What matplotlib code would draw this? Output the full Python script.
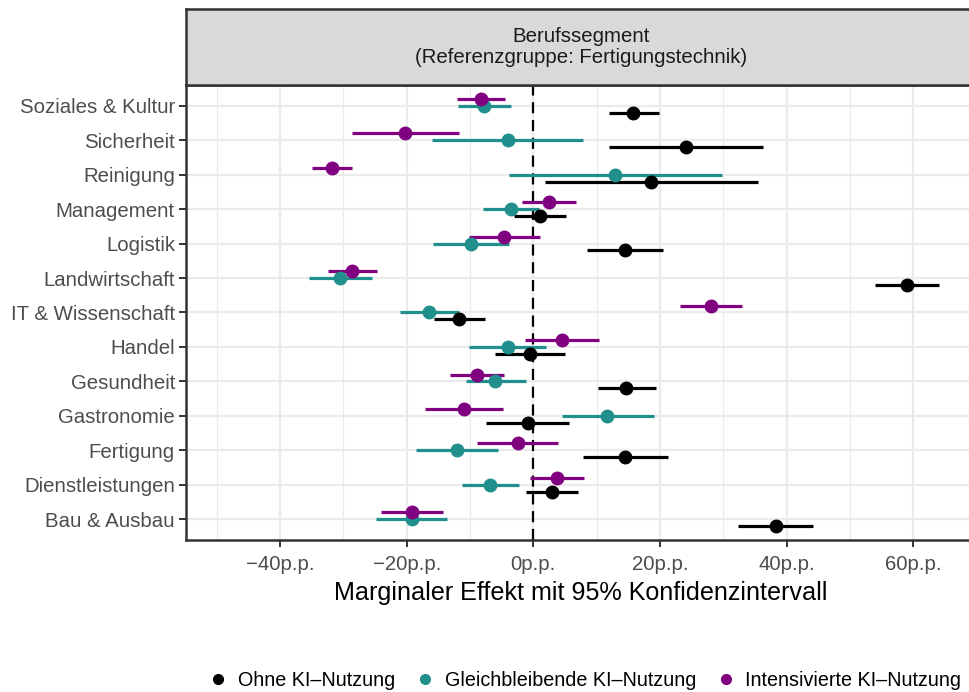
import numpy as np
import matplotlib
matplotlib.use("Agg")
import matplotlib.pyplot as plt
from matplotlib import font_manager
from matplotlib.lines import Line2D

names = {f.name for f in font_manager.fontManager.ttflist}
fam = [n for n in ["Liberation Sans Narrow", "Liberation Sans", "DejaVu Sans"] if n in names]
plt.rcParams["font.family"] = fam

# categories bottom -> top
segments = ["Bau & Ausbau", "Dienstleistungen", "Fertigung", "Gastronomie", "Gesundheit",
            "Handel", "IT & Wissenschaft", "Landwirtschaft", "Logistik", "Management",
            "Reinigung", "Sicherheit", "Soziales & Kultur"]

# Ohne KI-Nutzung: estimate, lower, upper
ohne_est = [38.3, 2.9, 14.5, -0.9, 14.7, -0.6, -11.8, 59.0, 14.4, 1.0, 18.6, 24.1, 15.8]
ohne_lo  = [32.3, -1.2, 7.8, -7.4, 10.2, -6.1, -15.7, 53.9, 8.5, -3.0, 1.9, 12.0, 12.0]
ohne_hi  = [44.2, 7.1, 21.2, 5.6, 19.3, 5.0, -7.6, 64.1, 20.4, 5.1, 35.4, 36.3, 19.8]

# Gleichbleibende KI-Nutzung
gleich_est = [-19.2, -6.8, -12.1, 11.7, -6.0, -4.0, -16.4, -30.5, -9.9, -3.5, 12.9, -4.0, -7.8]
gleich_lo  = [-24.8, -11.2, -18.6, 4.5, -10.7, -10.1, -21.1, -35.5, -15.9, -8.0, -3.8, -16.0, -11.9]
gleich_hi  = [-13.6, -2.3, -5.6, 19.1, -1.2, 2.0, -11.7, -25.5, -3.9, 0.9, 29.8, 7.9, -3.6]

# Intensivierte KI-Nutzung
intens_est = [-19.1, 3.7, -2.5, -11.0, -8.9, 4.6, 28.0, -28.7, -4.6, 2.4, -31.8, -20.2, -8.2]
intens_lo  = [-24.0, -0.5, -8.9, -17.1, -13.1, -1.3, 23.1, -32.5, -10.2, -1.8, -34.9, -28.6, -12.0]
intens_hi  = [-14.3, 8.0, 3.9, -4.8, -4.6, 10.4, 32.9, -24.7, 1.0, 6.7, -28.6, -11.8, -4.4]

groups = [
    ("Ohne KI\u2013Nutzung", ohne_est, ohne_lo, ohne_hi, "black", -0.2),
    ("Gleichbleibende KI\u2013Nutzung", gleich_est, gleich_lo, gleich_hi, "#21908C", 0.0),
    ("Intensivierte KI\u2013Nutzung", intens_est, intens_lo, intens_hi, "#800080", 0.2),
]

xticks = [-40, -20, 0, 20, 40, 60]
xminor = [-50, -30, -10, 10, 30, 50]

W, H = 970, 692
fig = plt.figure(figsize=(W / 100, H / 100), dpi=100)
L, R, B, T, ST = 186, 976, 540, 85, 9
ax = fig.add_axes([L / W, (H - B) / H, (R - L) / W, (B - T) / H])
sx = fig.add_axes([L / W, (H - T) / H, (R - L) / W, (T - ST) / H])

grid_c = "#EBEBEB"
for v in xminor:
    ax.axvline(v, color=grid_c, lw=0.8, zorder=0)
for v in xticks:
    ax.axvline(v, color=grid_c, lw=1.6, zorder=0)
y = np.arange(len(segments))
for yy in y:
    ax.axhline(yy, color=grid_c, lw=1.6, zorder=0)

ax.axvline(0, color="black", lw=1.6, ls=(0, (5, 3)), zorder=1)

for name, est, lo, hi, col, off in groups:
    yp = y + off
    ax.hlines(yp, lo, hi, color=col, lw=2.3, zorder=2)
    ax.plot(est, yp, "o", color=col, ms=9, zorder=3)

fs = 14.7
ax.set_xlim(-54.85, 69.9)
ax.set_ylim(-0.6, len(segments) - 0.4)
ax.set_yticks(y)
ax.set_yticklabels(segments)
ax.set_xticks(xticks)
ax.set_xticklabels([("\u2212" if v < 0 else "") + f"{abs(v)}p.p." for v in xticks])
ax.tick_params(axis="both", colors="#333333", width=1.4, length=5, labelsize=fs,
               labelcolor="#4D4D4D", pad=3)
ax.tick_params(axis="x", pad=6)
for s in ax.spines.values():
    s.set_color("#333333")
    s.set_linewidth(1.8)
ax.set_xlabel("Marginaler Effekt mit 95% Konfidenzintervall", fontsize=18.1, color="black",
              labelpad=5)

sx.set_facecolor("#D9D9D9")
sx.set_xticks([])
sx.set_yticks([])
for s in sx.spines.values():
    s.set_color("#333333")
    s.set_linewidth(1.8)
sx.text(0.5, 0.5, "Berufssegment\n(Referenzgruppe: Fertigungstechnik)", ha="center", va="center",
        fontsize=fs, color="#1A1A1A", transform=sx.transAxes, linespacing=1.15)

handles = [Line2D([], [], marker="o", ls="", color=g[4], ms=7) for g in groups]
fig.legend(handles, [g[0] for g in groups], loc="center", bbox_to_anchor=(585 / W, (H - 680) / H),
           ncol=3, frameon=False, fontsize=14.2, handletextpad=0.5, columnspacing=1.0,
           handlelength=1.0)

fig.savefig("out.png", dpi=100)
